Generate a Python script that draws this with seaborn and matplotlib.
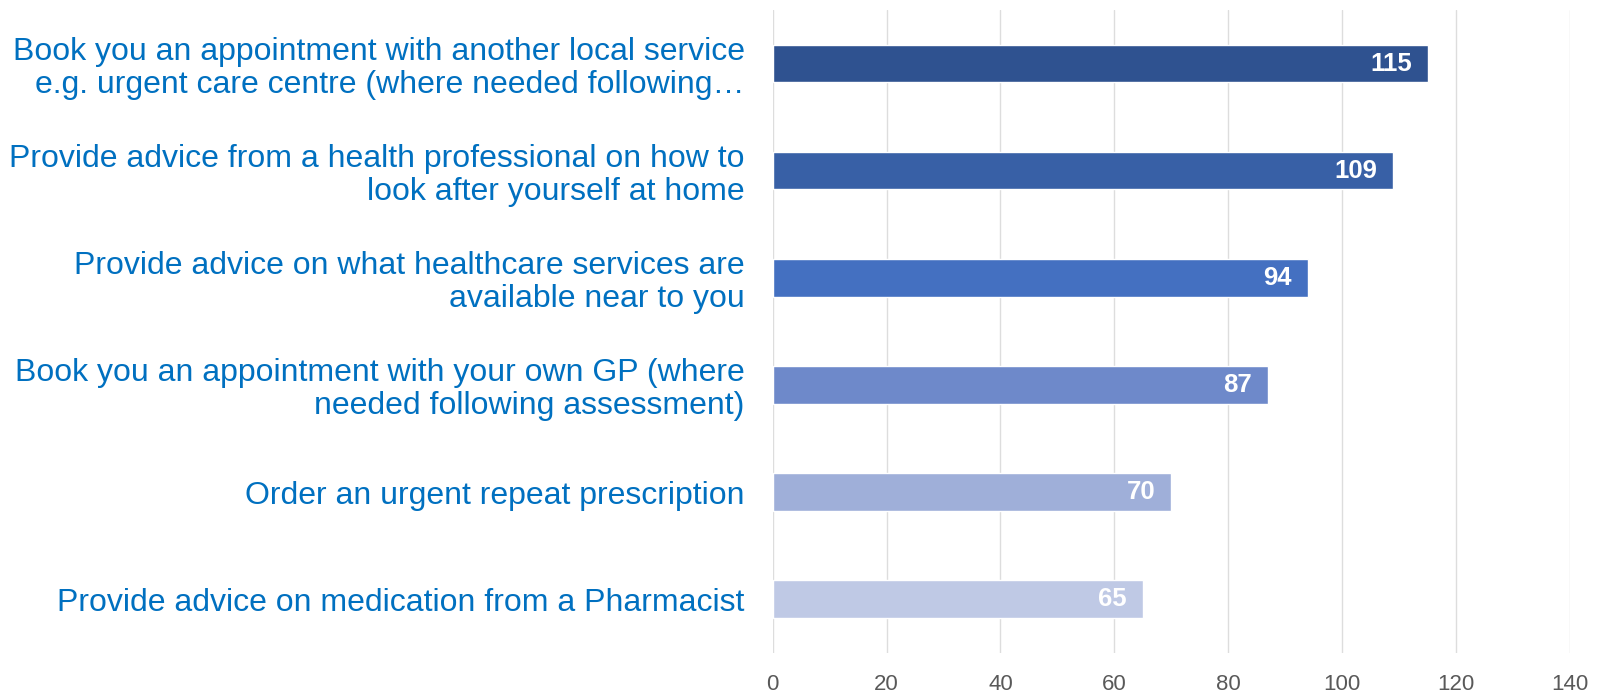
import matplotlib
matplotlib.use("Agg")
import matplotlib.pyplot as plt
import seaborn as sns
import pandas as pd

# Services offered, with response counts
services = [
    "Book you an appointment with another local service\ne.g. urgent care centre (where needed following\u2026",
    "Provide advice from a health professional on how to\nlook after yourself at home",
    "Provide advice on what healthcare services are\navailable near to you",
    "Book you an appointment with your own GP (where\nneeded following assessment)",
    "Order an urgent repeat prescription",
    "Provide advice on medication from a Pharmacist",
]
counts = [115, 109, 94, 87, 70, 65]
bar_colors = ["#2F5290", "#3860A6", "#4470C1", "#6E89CA", "#9FAFD9", "#BFC9E5"]
x_ticks = [0, 20, 40, 60, 80, 100, 120, 140]

df = pd.DataFrame({"service": services, "count": counts})

sns.set_theme(style="white")
plt.rcParams["font.family"] = ["Liberation Sans", "DejaVu Sans"]

fig = plt.figure(figsize=(15.98, 6.96), dpi=100)
ax = fig.add_axes([0.4835, 0.0622, 0.9825 - 0.4835, 0.9856 - 0.0622])

sns.barplot(
    data=df, x="count", y="service", hue="service",
    palette=bar_colors, legend=False, orient="h",
    width=0.35, ax=ax, saturation=1,
)

ax.set_xlim(0, 140)
ax.set_ylim(5.5, -0.5)
ax.set_xticks(x_ticks)
ax.set_xticklabels([str(t) for t in x_ticks])
ax.set_xlabel("")
ax.set_ylabel("")

ax.grid(axis="x", color="#DDDDDD", linewidth=1.0)
ax.grid(axis="y", visible=False)
ax.set_axisbelow(True)
for s in ax.spines.values():
    s.set_visible(False)

ax.tick_params(axis="x", length=0, pad=15.5, labelsize=16, labelcolor="#595959")
ax.tick_params(axis="y", length=0, pad=20, labelsize=23, labelcolor="#0070C0")
for lbl in ax.get_yticklabels():
    lbl.set_horizontalalignment("right")
    lbl.set_multialignment("right")
    lbl.set_linespacing(1.12)

# Value labels inside the end of each bar
for i, v in enumerate(counts):
    ax.annotate(
        str(v), xy=(v, i), xytext=(-11.5, 0), textcoords="offset points",
        ha="right", va="center", color="white", fontsize=18.5, fontweight="bold",
    )

fig.savefig("out.png", dpi=100, facecolor="white")
